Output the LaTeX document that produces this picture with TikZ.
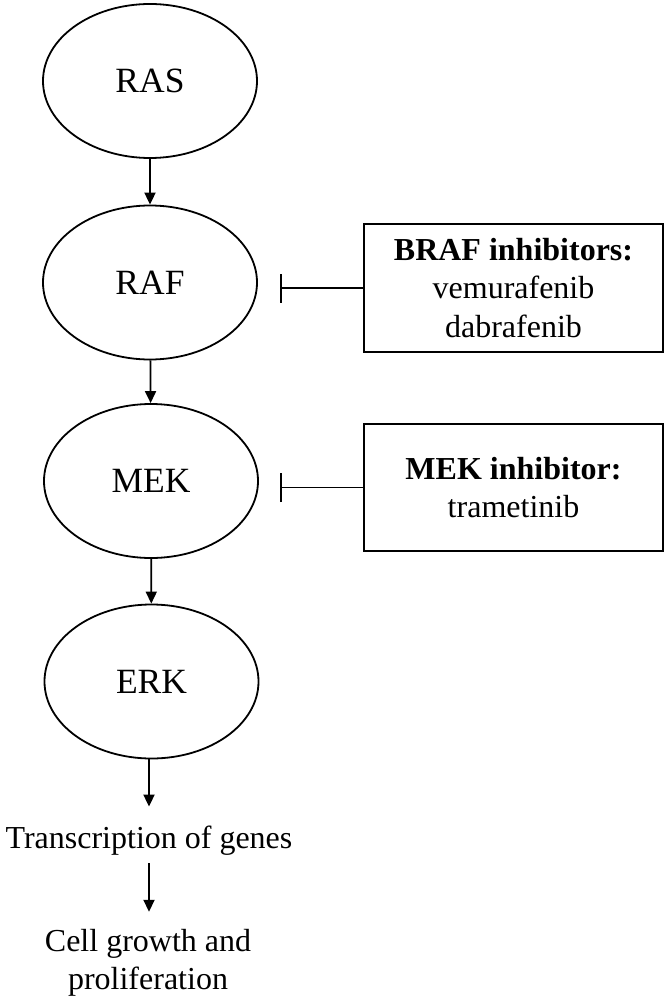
\documentclass[tikz,border=0pt]{standalone}
\usepackage{fontspec}
\setmainfont{Liberation Serif}
\usetikzlibrary{arrows.meta,shapes.geometric}
\begin{document}
\begin{tikzpicture}[x=1pt,y=-1pt,
  ell/.style={draw,ellipse,line width=1.8pt,minimum width=214pt,minimum height=154pt,inner sep=0pt,font=\fontsize{35.5}{42}\selectfont},
  drugbox/.style={draw,rectangle,line width=1.8pt,minimum width=299pt,inner sep=0pt,align=center,font=\fontsize{32}{38.5}\selectfont},
  txt/.style={inner sep=0pt,align=center,font=\fontsize{32}{38}\selectfont},
  arr/.style={line width=1.8pt,-{Triangle[width=11pt,length=12pt]}},
  inh/.style={line width=1.8pt,-{Bar[width=29pt,line width=1.8pt]}}]
\useasboundingbox (0,0) rectangle (667,1000);
\node[ell] (ras) at (150,81) {RAS};
\node[ell] (raf) at (150,282.5) {RAF};
\node[ell] (mek) at (151,481) {MEK};
\node[ell] (erk) at (151.5,681.5) {ERK};
\node[txt] (trans) at (149,840.5) {Transcription of genes};
\node[txt] (cell) at (148,962.5) {Cell growth and\\proliferation};
\node[drugbox,minimum height=128pt] (braf) at (513.5,288) {\textbf{BRAF inhibitors:}\\vemurafenib\\dabrafenib};
\node[drugbox,minimum height=127pt] (meki) at (513.5,487.5) {\textbf{MEK inhibitor:}\\trametinib};
\coordinate (rafbar) at (280,288);
\coordinate (mekbar) at (280,487.5);
\draw[arr] (ras) -- (raf);
\draw[arr] (raf) -- (mek);
\draw[arr] (mek) -- (erk);
\draw[arr,shorten >=19pt] (erk.south -| trans) -- (trans);
\draw[arr,shorten <=8pt,shorten >=17pt] (trans) -- (cell.north -| trans);
\draw[inh] (braf.west) -- (rafbar);
\draw[inh] (meki.west) -- (mekbar);
\end{tikzpicture}
\end{document}
